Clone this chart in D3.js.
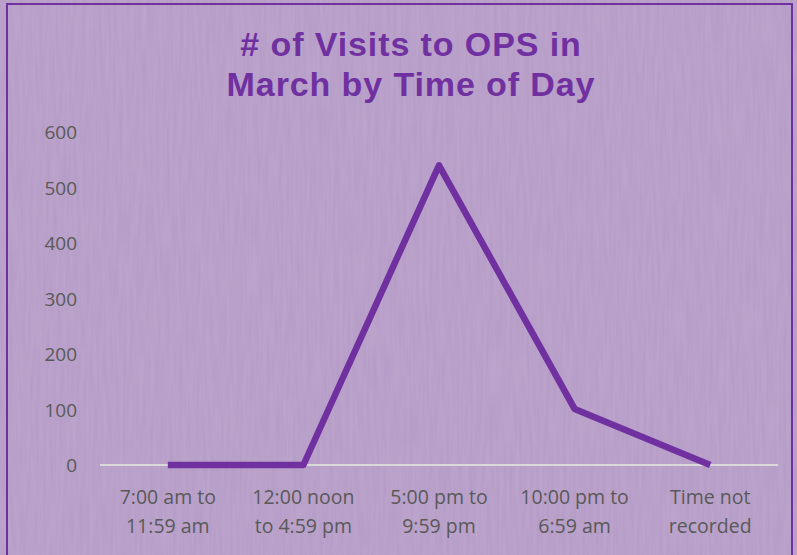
<!DOCTYPE html>
<html>
<head>
<meta charset="utf-8">
<script src="https://cdn.jsdelivr.net/npm/d3@7"></script>
<style>
    html, body { margin: 0; padding: 0; background: #b49ac6; }
    svg { display: block; }
</style>
</head>
<body>
<svg id="chart" width="797" height="555"></svg>
<script>
// 图表数据
const categories = [
    ['7:00 am to', '11:59 am'],
    ['12:00 noon', 'to 4:59 pm'],
    ['5:00 pm to', '9:59 pm'],
    ['10:00 pm to', '6:59 am'],
    ['Time not', 'recorded']
];
const visits = [0, 0, 540, 101, 0];
const yTicks = [0, 100, 200, 300, 400, 500, 600];
const titleLines = ['# of Visits to OPS in', 'March by Time of Day'];

const purple = '#7030a0';
const svg = d3.select('#chart');

// 背景 + 纹理
const defs = svg.append('defs');
const f = defs.append('filter').attr('id', 'grain').attr('x', 0).attr('y', 0).attr('width', '100%').attr('height', '100%');
f.append('feTurbulence').attr('type', 'fractalNoise').attr('baseFrequency', '0.3 0.02').attr('numOctaves', 2).attr('seed', 3);
f.append('feColorMatrix').attr('type', 'matrix')
    .attr('values', '0 0 0 0 1  0 0 0 0 1  0 0 0 0 1  0 0 0 0.12 0');
f.append('feComposite').attr('in2', 'SourceGraphic').attr('operator', 'in');

svg.append('rect').attr('width', 797).attr('height', 555).attr('fill', '#b49ac6');
svg.append('rect').attr('width', 797).attr('height', 555).attr('fill', '#b49ac6').attr('filter', 'url(#grain)');

// 边框
svg.append('rect').attr('x', 7).attr('y', 4).attr('width', 785).attr('height', 560)
    .attr('fill', 'none').attr('stroke', purple).attr('stroke-width', 2);

// 标题
svg.append('g').selectAll('text').data(titleLines).enter().append('text')
    .attr('x', 411).attr('y', (d, i) => 56 + i * 40)
    .attr('text-anchor', 'middle')
    .style('font-family', 'Liberation Sans, Arial, sans-serif')
    .style('font-weight', 'bold').style('font-size', '34px')
    .style('letter-spacing', '0.9px')
    .attr('fill', purple).text(d => d);

// 比例尺
const x = d3.scaleBand().domain(d3.range(categories.length)).range([100, 778]);
const y = d3.scaleLinear().domain([0, 600]).range([465, 132]);

// y 轴
const yAxis = svg.append('g').attr('transform', 'translate(77,0)')
    .call(d3.axisLeft(y).tickValues(yTicks).tickSize(0).tickPadding(0));
yAxis.select('.domain').remove();
yAxis.selectAll('text')
    .style('font-family', 'Open Sans, sans-serif').style('font-size', '19px')
    .attr('fill', '#595959').attr('dy', '0.36em').attr('x', 0);

// 基线
svg.append('line').attr('x1', 100).attr('x2', 778).attr('y1', y(0)).attr('y2', y(0))
    .attr('stroke', '#d9d9d9').attr('stroke-width', 2);

// x 轴标签
const xl = svg.append('g').selectAll('text').data(categories).enter().append('text')
    .attr('x', (d, i) => x(i) + x.bandwidth() / 2)
    .attr('text-anchor', 'middle')
    .style('font-family', 'Open Sans, sans-serif').style('font-size', '19.5px')
    .attr('fill', '#595959');
xl.selectAll('tspan').data(d => d).enter().append('tspan')
    .attr('x', function () { return d3.select(this.parentNode).attr('x'); })
    .attr('y', (d, i) => 504 + i * 29)
    .text(d => d);

// 折线
const line = d3.line()
    .x((d, i) => x(i) + x.bandwidth() / 2)
    .y(d => y(d));
svg.append('path').datum(visits)
    .attr('d', line)
    .attr('fill', 'none').attr('stroke', purple).attr('stroke-width', 6.5)
    .attr('stroke-linejoin', 'round');
</script>
</body>
</html>
